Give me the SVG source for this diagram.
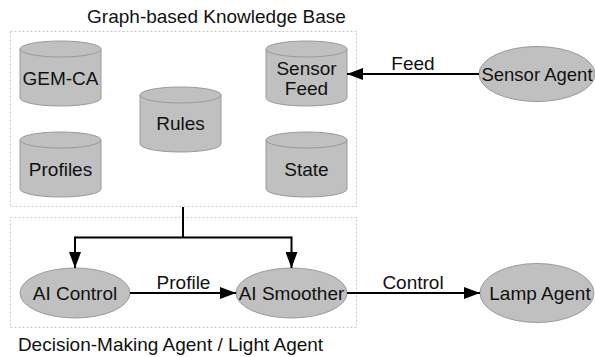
<svg xmlns="http://www.w3.org/2000/svg" width="595" height="357" viewBox="0 0 595 357">
<defs>
<style>
.frame{fill:none;stroke:#c8c8c8;stroke-width:1;stroke-dasharray:2 2}
.shape{fill:#c0c0c0;stroke:#9a9a9a;stroke-width:1}
.t{font-family:"Liberation Sans",Arial,sans-serif;font-size:19px;fill:#111;text-anchor:middle}
.edge{fill:none;stroke:#000;stroke-width:2}
</style>
<marker id="ah" viewBox="0 0 16 12" refX="16" refY="6" markerWidth="16" markerHeight="12" markerUnits="userSpaceOnUse" orient="auto">
<path d="M0,0 L16,6 L0,12 Z" fill="#000"/>
</marker>
</defs>
<rect width="595" height="357" fill="#fff"/>
<g id="kb-frame">
<rect class="frame" x="10.5" y="31.5" width="346" height="175"/>
<text class="t" x="216.5" y="22.5">Graph-based Knowledge Base</text>
</g>
<g id="agent-frame">
<rect class="frame" x="10.5" y="217.5" width="346" height="110"/>
<text class="t" x="170.5" y="351">Decision-Making Agent / Light Agent</text>
</g>
<g id="gem-ca">
<path class="shape" d="M20,49 L20,98 A40.5,8 0 0 0 101,98 L101,49 Z"/>
<ellipse class="shape" cx="60.5" cy="49" rx="40.5" ry="8"/>
<text class="t" x="60.5" y="85">GEM-CA</text>
</g>
<g id="profiles">
<path class="shape" d="M20,140 L20,189 A40.5,8 0 0 0 101,189 L101,140 Z"/>
<ellipse class="shape" cx="60.5" cy="140" rx="40.5" ry="8"/>
<text class="t" x="60.5" y="175.5">Profiles</text>
</g>
<g id="rules">
<path class="shape" d="M140,95 L140,144 A40.5,8 0 0 0 221,144 L221,95 Z"/>
<ellipse class="shape" cx="180.5" cy="95" rx="40.5" ry="8"/>
<text class="t" x="180.5" y="130">Rules</text>
</g>
<g id="sensor-feed">
<path class="shape" d="M266,49 L266,98 A40.5,8 0 0 0 347,98 L347,49 Z"/>
<ellipse class="shape" cx="306.5" cy="49" rx="40.5" ry="8"/>
<text class="t" x="306.5" y="75">Sensor</text>
<text class="t" x="306.5" y="95">Feed</text>
</g>
<g id="state">
<path class="shape" d="M266,140 L266,189 A40.5,8 0 0 0 347,189 L347,140 Z"/>
<ellipse class="shape" cx="306.5" cy="140" rx="40.5" ry="8"/>
<text class="t" x="306.5" y="175.5">State</text>
</g>
<g id="sensor-agent">
<ellipse class="shape" cx="537" cy="74" rx="58" ry="27.5"/>
<text class="t" x="537" y="81" style="font-size:18.5px">Sensor Agent</text>
</g>
<g id="ai-control">
<ellipse class="shape" cx="75" cy="293" rx="55" ry="25"/>
<text class="t" x="75" y="300">AI Control</text>
</g>
<g id="ai-smoother">
<ellipse class="shape" cx="291.5" cy="293" rx="55.5" ry="25"/>
<text class="t" x="291.5" y="300">AI Smoother</text>
</g>
<g id="lamp-agent">
<ellipse class="shape" cx="537" cy="293" rx="57" ry="29.5"/>
<text class="t" x="540" y="300">Lamp Agent</text>
</g>
<g id="connectors">
<line class="edge" x1="479" y1="74" x2="347" y2="74" marker-end="url(#ah)"/>
<text class="t" x="413" y="70">Feed</text>
<polyline class="edge" points="183,207 183,237.5"/>
<polyline class="edge" points="75,237.5 291.5,237.5"/>
<line class="edge" x1="75" y1="236.5" x2="75" y2="268" marker-end="url(#ah)"/>
<line class="edge" x1="291.5" y1="236.5" x2="291.5" y2="268" marker-end="url(#ah)"/>
<line class="edge" x1="130" y1="293" x2="236" y2="293" marker-end="url(#ah)"/>
<text class="t" x="183.5" y="289">Profile</text>
<line class="edge" x1="347" y1="293" x2="480" y2="293" marker-end="url(#ah)"/>
<text class="t" x="413" y="289">Control</text>
</g>
</svg>
